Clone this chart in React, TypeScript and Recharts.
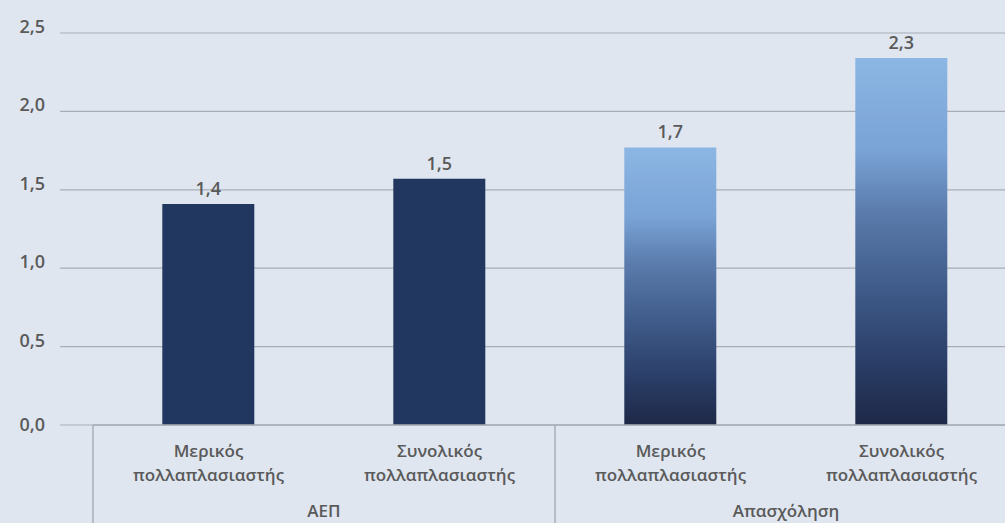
import { Bar, BarChart, CartesianGrid, Cell, LabelList, XAxis, YAxis } from "recharts";

const categories = ["Μερικός πολλαπλασιαστής", "Συνολικός πολλαπλασιαστής", "Μερικός πολλαπλασιαστής", "Συνολικός πολλαπλασιαστής"];
const groups = ["ΑΕΠ", "ΑΕΠ", "Απασχόληση", "Απασχόληση"];
const values = [1.41, 1.57, 1.77, 2.34];
const yTicks = [0, 0.5, 1, 1.5, 2, 2.5];

const data = categories.map((name, i) => ({ name, group: groups[i], value: values[i] }));

const font = "'Open Sans', 'Noto Sans', sans-serif";
const textColor = "#5a5a5a";
const lineColor = "#a9aeb5";
const fills = ["#21375f", "#21375f", "url(#barGrad)", "url(#barGrad)"];

const fmt = (v: number) => v.toFixed(1).replace(".", ",");
const fmtTrunc = (v: number) => (Math.floor(v * 10 + 1e-9) / 10).toFixed(1).replace(".", ",");

function CategoryTick(props: any) {
  const { x, y, payload, index } = props;
  const half = payload?.offset ?? 115;
  const [first, ...rest] = String(payload.value).split(" ");
  const isGroupStart = index === 0 || groups[index] !== groups[index - 1];
  const txt = { textAnchor: "middle" as const, fill: textColor, fontSize: 17, fontWeight: 600, fontFamily: font };
  return (
    <g>
      <text x={x} y={y + 32} {...txt}>
        {first}
      </text>
      <text x={x} y={y + 56} {...txt}>
        {rest.join(" ")}
      </text>
      {isGroupStart && (
        <>
          <line x1={x - half} y1={y} x2={x - half} y2={y + 100} stroke={lineColor} strokeWidth={1.5} />
          <line x1={x - half} y1={y} x2={x + half * 3} y2={y} stroke={lineColor} strokeWidth={1.5} />
          <text x={x + half} y={y + 92} {...txt}>
            {groups[index]}
          </text>
        </>
      )}
    </g>
  );
}

function YTick(props: any) {
  const { x, y, payload } = props;
  return (
    <text x={x} y={y} dy={payload.value === 0 ? 6 : 0} textAnchor="end" fill={textColor} fontSize={18} fontWeight={600} fontFamily={font}>
      {fmt(payload.value)}
    </text>
  );
}

export default function App() {
  return (
    <div style={{ position: "absolute", left: 0, top: 0, width: 1005, height: 523, overflow: "hidden", background: "#dfe6f0" }}>
      <BarChart width={1017} height={523} data={data} margin={{ top: 33, right: 0, bottom: 0, left: 0 }} barCategoryGap="30%">
        <defs>
          <linearGradient id="barGrad" x1="0" y1="0" x2="0" y2="1">
            <stop offset="0%" stopColor="#8cb6e3" />
            <stop offset="25%" stopColor="#7aa3d6" />
            <stop offset="42%" stopColor="#5a7bac" />
            <stop offset="62%" stopColor="#405c8a" />
            <stop offset="82%" stopColor="#2b3f69" />
            <stop offset="100%" stopColor="#1e2847" />
          </linearGradient>
        </defs>
        <CartesianGrid vertical={false} stroke={lineColor} strokeWidth={1.2} />
        <XAxis
          dataKey="name"
          padding={{ left: 33, right: 0 }}
          axisLine={false}
          tickLine={false}
          tickSize={0}
          tickMargin={0}
          height={98}
          interval={0}
          tick={<CategoryTick />}
        />
        <YAxis
          domain={[0, 2.5]}
          ticks={yTicks}
          axisLine={false}
          tickLine={false}
          tickSize={0}
          tickMargin={15}
          width={60}
          tick={<YTick />}
        />
        <Bar dataKey="value" isAnimationActive={false}>
          {data.map((_, i) => (
            <Cell key={i} fill={fills[i]} />
          ))}
          <LabelList dataKey="value" position="top" offset={9} formatter={(v: any) => fmtTrunc(Number(v))} fill={textColor} fontSize={18} fontWeight={600} fontFamily={font} />
        </Bar>
      </BarChart>
    </div>
  );
}
